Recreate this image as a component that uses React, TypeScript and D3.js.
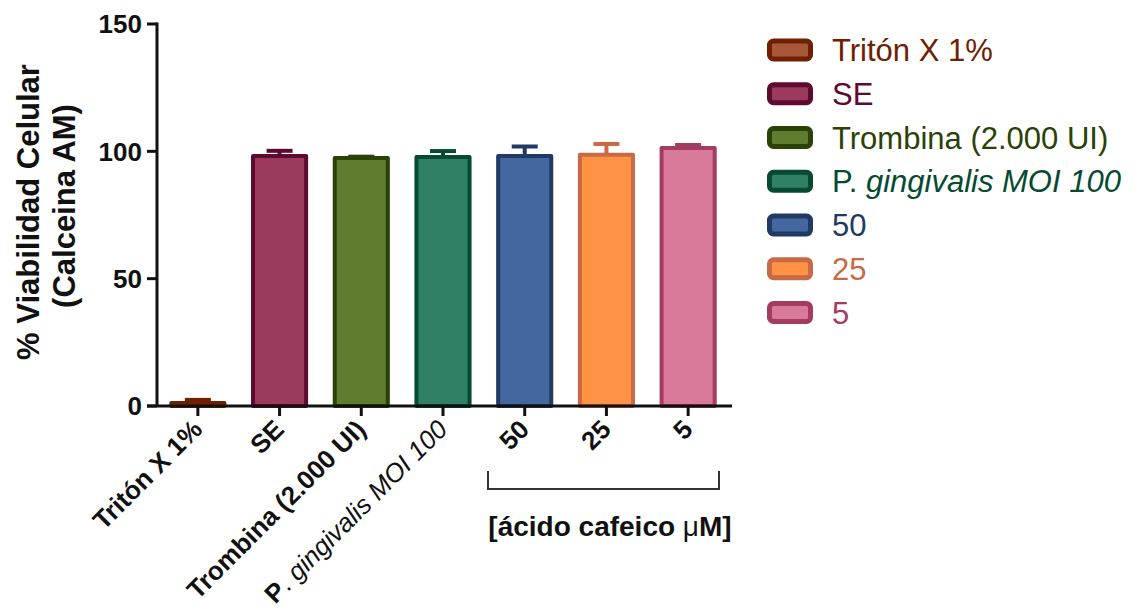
import React from "react";
import * as d3 from "d3";

const categories = ["Tritón X 1%", "SE", "Trombina (2.000 UI)", "P. gingivalis MOI 100", "50", "25", "5"];
const means = [1.2, 98.2, 97.4, 97.8, 98.2, 98.7, 101.3];
const errors = [1.2, 2.0, 0.5, 2.3, 3.7, 4.2, 1.2];
const fills = ["#a85838", "#9c3a5e", "#5f7c2f", "#2f8065", "#4467a0", "#ff9345", "#d97a9a"];
const strokes = ["#6e2000", "#5c0a30", "#2b4206", "#054a31", "#213a63", "#c76a45", "#a33c62"];
const yTicks = [0, 50, 100, 150];

const FONT = "'Liberation Sans', Arial, Helvetica, sans-serif";

export default function App() {
  const x = d3.scaleBand<string>().domain(categories).range([157, 729]).paddingInner(0.35).paddingOuter(0.175);
  const y = d3.scaleLinear().domain([0, 150]).range([406, 24]);
  const bw = x.bandwidth();
  const legendY = (i: number) => 50 + i * 43.75;

  const tickLabel = (c: string, i: number) => {
    const cx = (x(c) as number) + bw / 2;
    const t = `translate(${cx + 6},431) rotate(-45)`;
    if (i === 3) {
      return (
        <text key={c} transform={t} textAnchor="end" fontSize={26} fontFamily={FONT} fill="#111">
          <tspan fontWeight="bold">P</tspan>
          <tspan>. </tspan>
          <tspan fontStyle="italic">gingivalis MOI 100</tspan>
        </text>
      );
    }
    return (
      <text key={c} transform={t} textAnchor="end" fontSize={26} fontWeight="bold" fontFamily={FONT} fill="#111">
        {c}
      </text>
    );
  };

  return (
    <svg width={1144} height={612} style={{ position: "absolute", left: 0, top: 0, background: "#fff" }}>
      {/* error bars */}
      {categories.map((c, i) => {
        const cx = (x(c) as number) + bw / 2;
        return (
          <g key={"e" + c} stroke={strokes[i]} strokeWidth={4}>
            <line x1={cx} x2={cx} y1={y(means[i])} y2={y(means[i] + errors[i])} />
            <line x1={cx - 13} x2={cx + 13} y1={y(means[i] + errors[i])} y2={y(means[i] + errors[i])} />
          </g>
        );
      })}
      {/* bars */}
      {categories.map((c, i) => (
        <rect
          key={"b" + c}
          x={x(c) as number}
          y={y(means[i])}
          width={bw}
          height={y(0) - y(means[i])}
          fill={fills[i]}
          stroke={strokes[i]}
          strokeWidth={4}
          strokeLinejoin="round"
        />
      ))}
      {/* axes */}
      <g stroke="#111" strokeWidth={3}>
        <line x1={157} x2={157} y1={y(150) - 1.5} y2={y(0)} />
        <line x1={147} x2={732} y1={y(0)} y2={y(0)} />
        {yTicks.map((t) => (
          <line key={"yt" + t} x1={147} x2={157} y1={y(t)} y2={y(t)} />
        ))}
        {categories.map((c) => {
          const cx = (x(c) as number) + bw / 2;
          return <line key={"xt" + c} x1={cx} x2={cx} y1={y(0)} y2={y(0) + 10} />;
        })}
      </g>
      {yTicks.map((t) => (
        <text key={"yl" + t} x={142} y={y(t)} dy="0.36em" textAnchor="end" fontSize={26} fontWeight="bold" fontFamily={FONT} fill="#111">
          {t}
        </text>
      ))}
      {/* y title */}
      <g transform="translate(39,212) rotate(-90)">
        <text textAnchor="middle" fontSize={31} fontWeight="bold" fontFamily={FONT} fill="#111">% Viabilidad Celular</text>
      </g>
      <g transform="translate(75,206) rotate(-90)">
        <text textAnchor="middle" fontSize={31} fontWeight="bold" fontFamily={FONT} fill="#111">(Calceina AM)</text>
      </g>
      {categories.map(tickLabel)}
      {/* bracket */}
      <path d="M488,471 V489 H719 V471" fill="none" stroke="#333" strokeWidth={2} />
      <text x={610} y={536} textAnchor="middle" fontSize={28} fontWeight="bold" fontFamily={FONT} fill="#111">
        [ácido cafeico <tspan fontWeight="normal">μ</tspan>M]
      </text>
      {/* legend */}
      {categories.map((c, i) => (
        <g key={"lg" + c}>
          <rect x={769.5} y={legendY(i) - 9} width={41} height={18} rx={4} fill={fills[i]} stroke={strokes[i]} strokeWidth={5} />
          <text x={832} y={legendY(i)} dy="0.36em" fontSize={31} fontFamily={FONT} fill={strokes[i]}>
            {i === 3 ? (
              <>
                <tspan>P. </tspan>
                <tspan fontStyle="italic">gingivalis MOI 100</tspan>
              </>
            ) : (
              c
            )}
          </text>
        </g>
      ))}
    </svg>
  );
}
